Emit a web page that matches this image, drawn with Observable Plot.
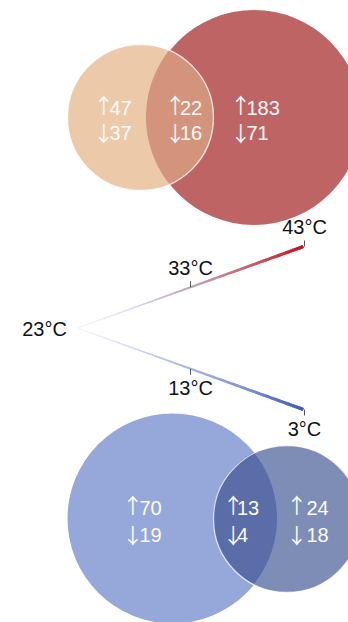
<!DOCTYPE html>
<html>
<head>
<meta charset="utf-8">
<script src="https://cdn.jsdelivr.net/npm/d3@7"></script>
<script src="https://cdn.jsdelivr.net/npm/@observablehq/plot@0.6"></script>
<style>
  html, body { margin: 0; padding: 0; background: #fff; }
  #chart svg { display: block; }
</style>
</head>
<body>
<div id="chart"></div>
<script>
// Gene counts per Venn region: [left only, shared, right only]
const regions = ["left", "shared", "right"];
const heatUp = [47, 22, 183];
const heatDown = [37, 16, 71];
const coldUp = [70, 13, 24];
const coldDown = [19, 4, 18];

// Temperature scale: 23 °C is the control, arms run to heat and cold
const control = 23;
const tempTicks = [3, 13, 23, 33, 43];
const tempLabels = tempTicks.map(t => `${t}°C`);

// ---- layout (figure pixels) ----
const W = 348, H = 622;
const FONT = "'Liberation Sans', Arial, sans-serif";
const ARROW_FONT = "'Noto Sans CJK SC', 'Liberation Sans', sans-serif";
const heatVenn = {
  small: {cx: 140, cy: 117, r: 73, fill: "#ebc9a9"},
  big: {cx: 253.5, cy: 117, r: 107.5, fill: "#bf6465"},
  lens: "#d4937b",
  arrowX: [99.5, 171, 236.5], numX: [109, 179.5, 246], rowY: [108, 133]
};
const coldVenn = {
  big: {cx: 172, cy: 518, r: 105, fill: "#95a8d9"},
  small: {cx: 286.5, cy: 518.5, r: 73.5, fill: "#7e8db6"},
  lens: "#5b6da8",
  arrowX: [128.5, 229, 292.5], numX: [139, 236.5, 306], rowY: [508, 535]
};
const arm = {apex: [77, 327.5], hot: [303, 246], cold: [303, 409], span: 20};

// position along the arms for a temperature
function armPos(t) {
  const f = Math.abs(t - control) / arm.span;
  const end = t >= control ? arm.hot : arm.cold;
  return {
    x: arm.apex[0] + f * (end[0] - arm.apex[0]),
    y: arm.apex[1] + f * (end[1] - arm.apex[1]),
    f
  };
}

// gradient arms drawn as short links, widening away from 23 °C
const step = 0.2;
const segs = [];
for (const dir of [1, -1]) {
  for (let k = 0; k < arm.span / step; k++) {
    const t0 = control + dir * k * step;
    const t1 = control + dir * Math.min((k + 1.6) * step, arm.span);
    const a = armPos(t0), b = armPos(t1);
    segs.push({x1: a.x, y1: a.y, x2: b.x, y2: b.y, t: (t0 + t1) / 2, w: 0.7 + 2.6 * a.f});
  }
}

// ticks and labels on the arms
const ticks = tempTicks.filter(t => t !== control).map(t => {
  const p = armPos(t);
  const up = t > control;
  return {x: p.x + (Math.abs(t - control) === arm.span ? 1 : 0), y1: up ? p.y - 6 : p.y, y2: up ? p.y : p.y + 6};
});
const labels = tempTicks.map((t, i) => {
  const p = armPos(t);
  let x = p.x, y = p.y;
  if (t === control) { x -= 33; y += 1.5; }
  else if (t > control) y -= 19;
  else y += 20;
  if (Math.abs(t - control) === arm.span) x += 1;
  return {x, y, label: tempLabels[i]};
});

// lens (intersection) of two circles sharing a horizontal axis
function lens(left, right) {
  const d = right.cx - left.cx;
  const a = (left.r * left.r - right.r * right.r + d * d) / (2 * d);
  const h = Math.sqrt(left.r * left.r - a * a);
  const cy = (left.cy + right.cy) / 2;
  const pts = [];
  const n = 120;
  for (let i = 0; i <= n; i++) {
    const dy = -h + (2 * h * i) / n;
    pts.push({
      y: cy + dy,
      x1: right.cx - Math.sqrt(Math.max(0, right.r * right.r - dy * dy)),
      x2: left.cx + Math.sqrt(Math.max(0, left.r * left.r - dy * dy))
    });
  }
  return pts;
}

// gap between arrow and digits of each count label, in drawing order
const countGaps = [];

function vennMarks(v, up, down, leftKey, rightKey) {
  const L = v[leftKey], R = v[rightKey];
  const rows = regions.map((r, i) => ({ax: v.arrowX[i], nx: v.numX[i], up: up[i], down: down[i]}));
  rows.forEach(d => countGaps.push(d.nx - d.ax));
  rows.forEach(d => countGaps.push(d.nx - d.ax));
  const opts = {textAnchor: "start", fontSize: 20, fill: "#fbfbfb", fontFamily: FONT, x: "ax"};
  return [
    Plot.dot([v.big], {x: "cx", y: "cy", r: v.big.r, fill: v.big.fill, stroke: null}),
    Plot.dot([v.small], {x: "cx", y: "cy", r: v.small.r, fill: v.small.fill, stroke: null}),
    Plot.areaX(lens(L, R), {y: "y", x1: "x1", x2: "x2", fill: v.lens}),
    Plot.dot([v.small], {x: "cx", y: "cy", r: v.small.r, fill: "none", stroke: "#ffffff", strokeWidth: 1.3, strokeOpacity: 0.75}),
    Plot.text(rows, {...opts, y: () => v.rowY[0], text: d => `↑${d.up}`}),
    Plot.text(rows, {...opts, y: () => v.rowY[1], text: d => `↓${d.down}`})
  ];
}

const chart = Plot.plot({
  width: W,
  height: H,
  margin: 0,
  style: {background: "#fff", overflow: "hidden"},
  x: {domain: [0, W], range: [0, W], axis: null},
  y: {domain: [0, H], range: [0, H], axis: null},
  color: {
    type: "linear",
    domain: [3, 8, 13, 18, 23, 28, 33, 38, 43],
    range: ["#3b5bbd", "#7a91d3", "#a8b6e1", "#d2d9f0", "#f0f2fa", "#d8dbee", "#c2a7b6", "#c76472", "#c5131b"],
    interpolate: "rgb"
  },
  marks: [
    ...vennMarks(heatVenn, heatUp, heatDown, "small", "big"),
    ...vennMarks(coldVenn, coldUp, coldDown, "big", "small"),
    Plot.link(segs, {x1: "x1", y1: "y1", x2: "x2", y2: "y2", stroke: "t", strokeWidth: "w", strokeLinecap: "butt"}),
    Plot.link(ticks, {x1: "x", x2: "x", y1: "y1", y2: "y2", stroke: "#555", strokeWidth: 1}),
    Plot.text(labels, {x: "x", y: "y", text: "label", textAnchor: "middle", fontSize: 20, fill: "#111", fontFamily: FONT})
  ]
});

document.getElementById("chart").appendChild(chart);

// set the arrow of each count in a taller, thin arrow face; tighten its
// full-width advance so the digits follow right after it
const ARROW_SIZE = 21;
const ARROW_INK = 7.5;
let slot = 0;
d3.select(chart).selectAll("text").each(function () {
  const s = this.textContent;
  if (!/^[↑↓]/.test(s)) return;
  const gap = countGaps[slot++];
  const up = s[0] === "↑";
  const el = d3.select(this).text(null);
  const arrow = el.append("tspan")
    .attr("font-family", ARROW_FONT)
    .attr("font-size", ARROW_SIZE)
    .attr("dy", up ? -2 : 1.5)
    .text(s[0]);
  const adv = arrow.node().getComputedTextLength();
  const bearing = Math.max(0, (adv - ARROW_INK) / 2);
  arrow.attr("dx", -bearing).attr("letter-spacing", gap + bearing - adv);
  el.append("tspan")
    .attr("dy", up ? 2 : -1.5)
    .text(s.slice(1));
});
</script>
</body>
</html>
